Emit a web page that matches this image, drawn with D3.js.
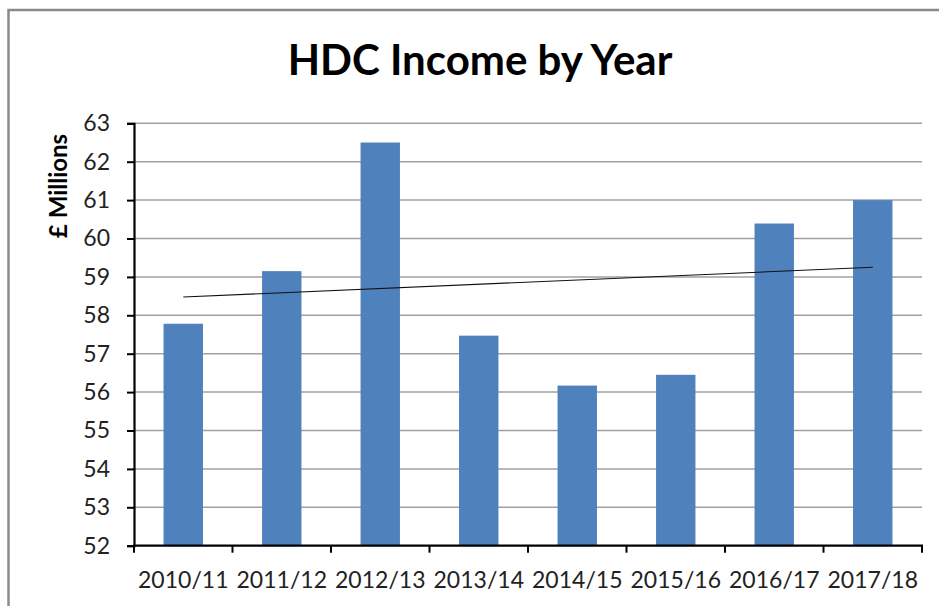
<!DOCTYPE html>
<html>
<head>
<meta charset="utf-8">
<script src="https://cdn.jsdelivr.net/npm/d3@7"></script>
<style>
  html, body { margin: 0; padding: 0; background: #fff; }
  svg { display: block; }
</style>
</head>
<body>
<svg id="chart" width="939" height="606"></svg>
<script>
// Annual income, £ millions
const years = ["2010/11", "2011/12", "2012/13", "2013/14", "2014/15", "2015/16", "2016/17", "2017/18"];
const income = [57.78, 59.15, 62.5, 57.47, 56.17, 56.45, 60.39, 61.0];
const yTicks = [52, 53, 54, 55, 56, 57, 58, 59, 60, 61, 62, 63];

const title = "HDC Income by Year";
const yTitle = "£ Millions";

const svg = d3.select("#chart");
const W = 939, H = 606;
const plot = { left: 134, right: 922, top: 123.3, bottom: 545.7 };
const font = "Lato, 'Open Sans', sans-serif";

// Outer chart frame (only top and left edges fall inside the view)
svg.append("rect")
  .attr("x", 8.5).attr("y", 10)
  .attr("width", W + 20).attr("height", H + 20)
  .attr("fill", "#fff")
  .attr("stroke", "#8a8a8a")
  .attr("stroke-width", 2.5);

const x = d3.scaleBand()
  .domain(years)
  .range([plot.left, plot.right])
  .paddingInner(0.6)
  .paddingOuter(0.3);

const y = d3.scaleLinear()
  .domain([52, 63])
  .range([plot.bottom, plot.top]);

// Horizontal gridlines
svg.append("g")
  .selectAll("line")
  .data(yTicks.filter(t => t > 52))
  .join("line")
  .attr("x1", plot.left).attr("x2", plot.right)
  .attr("y1", d => y(d)).attr("y2", d => y(d))
  .attr("stroke", "#a0a0a0")
  .attr("stroke-width", 1.5);

// Bars
svg.append("g")
  .selectAll("rect")
  .data(years.map((yr, i) => ({ yr, v: income[i] })))
  .join("rect")
  .attr("x", d => x(d.yr))
  .attr("width", x.bandwidth())
  .attr("y", d => y(d.v))
  .attr("height", d => y(52) - y(d.v))
  .attr("fill", "#4f81bd");

// Linear trendline (least squares over category index)
const n = income.length;
const xs = d3.range(1, n + 1);
const mx = d3.mean(xs), my = d3.mean(income);
const slope = d3.sum(xs, (xi, i) => (xi - mx) * (income[i] - my)) / d3.sum(xs, xi => (xi - mx) ** 2);
const icpt = my - slope * mx;
const cx = i => x(years[i]) + x.bandwidth() / 2;
svg.append("line")
  .attr("x1", cx(0)).attr("y1", y(icpt + slope * 1))
  .attr("x2", cx(n - 1)).attr("y2", y(icpt + slope * n))
  .attr("stroke", "#111")
  .attr("stroke-width", 1.1);

// Y axis
const yAxis = svg.append("g")
  .attr("transform", `translate(${plot.left},0)`)
  .call(d3.axisLeft(y).tickValues(yTicks).tickSize(7).tickPadding(17).tickFormat(d3.format("d")));
yAxis.select(".domain").attr("stroke", "#000").attr("stroke-width", 2.2);
yAxis.selectAll(".tick line").attr("stroke", "#000").attr("stroke-width", 2);
yAxis.selectAll(".tick text")
  .attr("font-family", font).attr("font-size", 23).attr("fill", "#222");

// X axis with tick marks at category boundaries
const xAxisG = svg.append("g").attr("transform", `translate(0,${plot.bottom})`);
xAxisG.append("line")
  .attr("x1", plot.left - 1).attr("x2", plot.right + 1)
  .attr("y1", 0).attr("y2", 0)
  .attr("stroke", "#000").attr("stroke-width", 2.2);
const bounds = d3.range(n + 1).map(i => plot.left + i * (plot.right - plot.left) / n);
xAxisG.selectAll(".xt")
  .data(bounds)
  .join("line")
  .attr("class", "xt")
  .attr("x1", d => d).attr("x2", d => d)
  .attr("y1", 0).attr("y2", 7)
  .attr("stroke", "#000").attr("stroke-width", 2);
xAxisG.selectAll("text")
  .data(years)
  .join("text")
  .attr("x", d => cx(years.indexOf(d)))
  .attr("y", 42)
  .attr("text-anchor", "middle")
  .attr("font-family", font).attr("font-size", 23).attr("fill", "#222")
  .text(d => d);

// Titles
svg.append("text")
  .attr("x", 480).attr("y", 75)
  .attr("text-anchor", "middle")
  .attr("font-family", font).attr("font-weight", 700).attr("font-size", 42)
  .attr("fill", "#000")
  .text(title);

svg.append("text")
  .attr("transform", `translate(67,186) rotate(-90)`)
  .attr("text-anchor", "middle")
  .attr("font-family", font).attr("font-weight", 700).attr("font-size", 24)
  .attr("fill", "#000")
  .text(yTitle);
</script>
</body>
</html>
